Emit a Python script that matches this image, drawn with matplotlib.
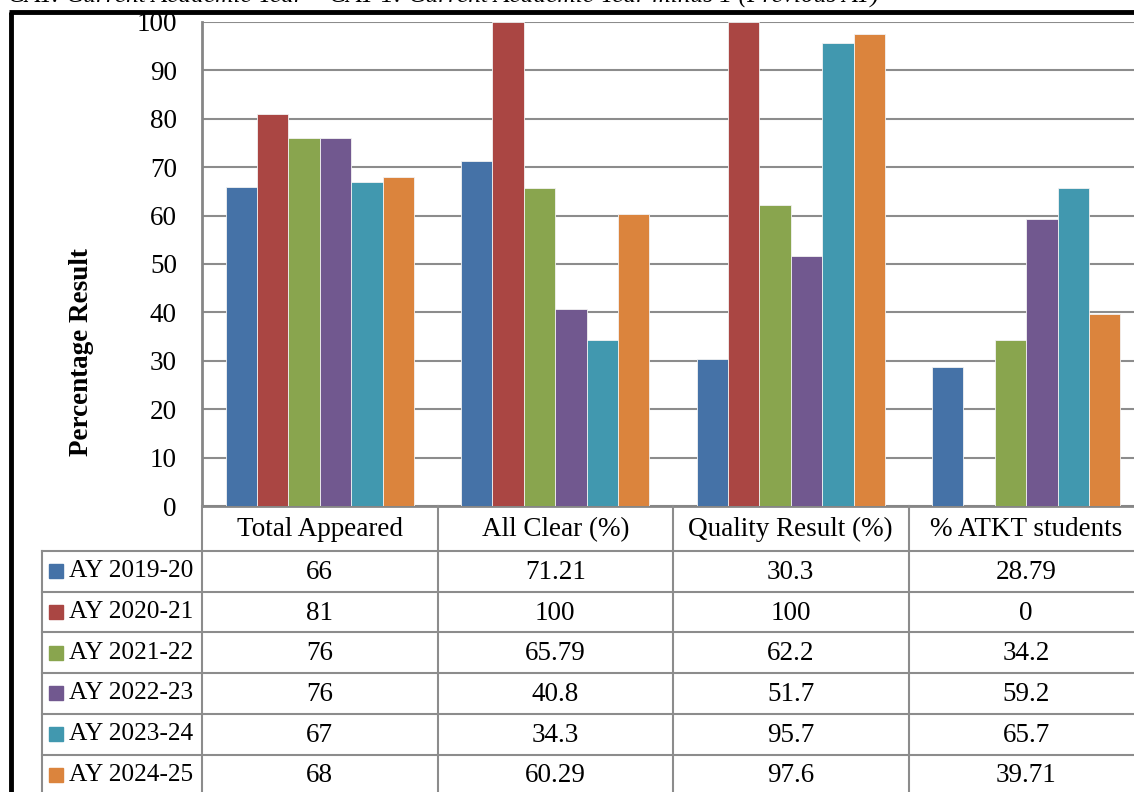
"""
Percentage result comparison across academic years, bar chart with an
Excel-style data table underneath.
"""

import numpy as np
import matplotlib
matplotlib.use('Agg')
import matplotlib.pyplot as plt
from matplotlib.lines import Line2D
from matplotlib.patches import Rectangle

# ---- data ----
categories = ['Total Appeared', 'All Clear (%)', 'Quality Result (%)', '% ATKT students']
years = ['AY 2019-20', 'AY 2020-21', 'AY 2021-22', 'AY 2022-23', 'AY 2023-24', 'AY 2024-25']
values = [
    [66, 71.21, 30.3, 28.79],
    [81, 100, 100, 0],
    [76, 65.79, 62.2, 34.2],
    [76, 40.8, 51.7, 59.2],
    [67, 34.3, 95.7, 65.7],
    [68, 60.29, 97.6, 39.71],
]
value_labels = [
    ['66', '71.21', '30.3', '28.79'],
    ['81', '100', '100', '0'],
    ['76', '65.79', '62.2', '34.2'],
    ['76', '40.8', '51.7', '59.2'],
    ['67', '34.3', '95.7', '65.7'],
    ['68', '60.29', '97.6', '39.71'],
]
y_ticks = [0, 10, 20, 30, 40, 50, 60, 70, 80, 90, 100]
colors = ['#4572A7', '#AA4643', '#89A54E', '#71588F', '#4198AF', '#DB843D']
note = 'CAY: Current Academic Year \u2013 CAY-1: Current Academic Year minus 1 (Previous AY)'

# ---- layout (pixels) ----
W, H = 1134, 792
FONT = 'Liberation Serif'
FS = 19.5
GRID = '#8c8c8c'

plot_left, plot_right = 202, 1144
plot_top, plot_bottom = 22, 506
label_left = 42
header_bottom = 551
row_h = 40.7

fig = plt.figure(figsize=(W / 100, H / 100), dpi=100)

# bar chart
ax = fig.add_axes([plot_left / W, (H - plot_bottom) / H,
                   (plot_right - plot_left) / W, (plot_bottom - plot_top) / H])
n_groups = len(categories)
n_series = len(years)
bar_w = 1 / (n_series + 1.5)
x = np.arange(n_groups)
for j in range(n_series):
    ax.bar(x + (j - (n_series - 1) / 2) * bar_w, values[j], width=bar_w,
           color=colors[j], edgecolor='#f2f2f2', linewidth=0.6, zorder=3)

ax.set_xlim(-0.5, n_groups - 0.5)
ax.set_ylim(0, 100)
ax.set_yticks(y_ticks)
ax.set_yticklabels([str(t) for t in y_ticks], fontsize=FS, family=FONT)
ax.tick_params(axis='y', length=0, pad=18)
ax.set_xticks([])
ax.yaxis.grid(True, color=GRID, linewidth=1.5, zorder=0)
for side in ['top', 'right']:
    ax.spines[side].set_visible(False)
for side in ['left', 'bottom']:
    ax.spines[side].set_color('#868686')
    ax.spines[side].set_linewidth(2)
ax.set_ylabel('Percentage Result', fontsize=FS, fontweight='bold', family=FONT)
# Excel centres the title on the whole chart (plot + table), so it sits low
ax.yaxis.set_label_coords(-(plot_left - 94) / (plot_right - plot_left),
                          (plot_bottom - 352) / (plot_bottom - plot_top))

# data table below the plot
table_bottom = header_bottom + row_h * n_series
tab = fig.add_axes([label_left / W, (H - table_bottom) / H,
                    (plot_right - label_left) / W, (table_bottom - plot_bottom) / H])
tab.set_xlim(label_left, plot_right)
tab.set_ylim(table_bottom, plot_bottom)
tab.axis('off')

col_w = (plot_right - plot_left) / n_groups
col_edges = [plot_left + i * col_w for i in range(n_groups + 1)]
row_edges = [header_bottom + i * row_h for i in range(n_series + 1)]

for xe in col_edges:
    tab.plot([xe, xe], [plot_bottom, table_bottom], color=GRID, lw=1.5, clip_on=False)
tab.plot([label_left, label_left], [header_bottom, table_bottom], color=GRID, lw=1.5, clip_on=False)
for ye in row_edges:
    tab.plot([label_left, plot_right], [ye, ye], color=GRID, lw=1.5, clip_on=False)

for i, cat in enumerate(categories):
    cx = col_edges[i] + col_w / 2
    tab.text(cx, (plot_bottom + header_bottom) / 2 + 1, cat, ha='center', va='center',
             fontsize=FS, family=FONT)

for j, yr in enumerate(years):
    cy = row_edges[j] + row_h / 2
    tab.add_patch(Rectangle((49, cy - 7), 14, 14, color=colors[j], clip_on=False))
    tab.text(69, cy, yr, ha='left', va='center', fontsize=18.3, family=FONT)
    for i in range(n_groups):
        tab.text(col_edges[i] + col_w / 2, cy + 1, value_labels[j][i], ha='center',
                 va='center', fontsize=FS, family=FONT)

# black frame and cropped note on top
fig.add_artist(Line2D([11 / W, 11 / W], [0, 1 - 12 / H], color='black', lw=3.5,
                      solid_capstyle='butt'))
fig.add_artist(Line2D([9.2 / W, 1], [1 - 12 / H, 1 - 12 / H], color='black', lw=3.5,
                      solid_capstyle='butt'))
fig.text(8 / W, 1 - 3 / H, note, ha='left', va='baseline', fontsize=18.3,
         fontstyle='italic', family=FONT)

fig.savefig('out.png', dpi=100)
